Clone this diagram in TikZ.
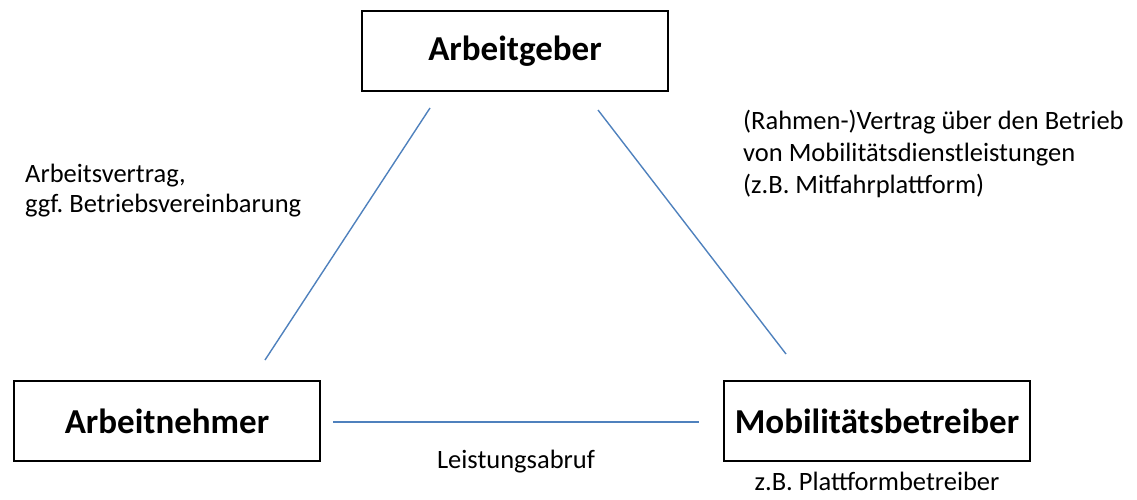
\documentclass[tikz,border=0pt]{standalone}
\usepackage{fontspec}
\setmainfont{Carlito}
\frenchspacing
\definecolor{linkblue}{RGB}{79,129,189}
\begin{document}
\begin{tikzpicture}[x=1pt,y=-1pt,
  party/.style={draw=black,line width=1.8pt,minimum width=306pt,minimum height=80pt,
    inner sep=0pt,font=\fontsize{35}{40}\selectfont\bfseries},
  relation/.style={draw=linkblue,line width=1.4pt},
  note/.style={font=\fontsize{26.5}{32}\selectfont,inner sep=0pt,align=left}]
  \useasboundingbox (0,0) rectangle (1137,500);

  % the three parties
  \node[party] (ag) at (515,51) {Arbeitgeber};
  \node[party] (an) at (167,421) {Arbeitnehmer};
  \node[party] (mb) at (877,421) {Mobilitätsbetreiber};

  % free ends of the connecting lines
  \coordinate (agL) at (430,108);
  \coordinate (anT) at (265,360);
  \coordinate (agR) at (598,110);
  \coordinate (mbT) at (786,354);
  \coordinate (anR) at (333,422);
  \coordinate (mbL) at (699,422);

  \draw[relation] (agL) -- (anT);
  \draw[relation] (agR) -- (mbT);
  \draw[relation] (anR) -- (mbL);

  % labels of the relations
  \node[note,anchor=base west] (lv) at (25,212) {Arbeitsvertrag,\\[-2pt]ggf. Betriebsvereinbarung};
  \node[note,anchor=base west] (rv) at (743,193) {(Rahmen-)Vertrag über den Betrieb\\von Mobilitätsdienstleistungen\\(z.B. Mitfahrplattform)};
  \node[note,anchor=base] (la) at (516,468) {Leistungsabruf};
  \node[note,anchor=base] (pb) at (877,490) {z.B. Plattformbetreiber};
\end{tikzpicture}
\end{document}
